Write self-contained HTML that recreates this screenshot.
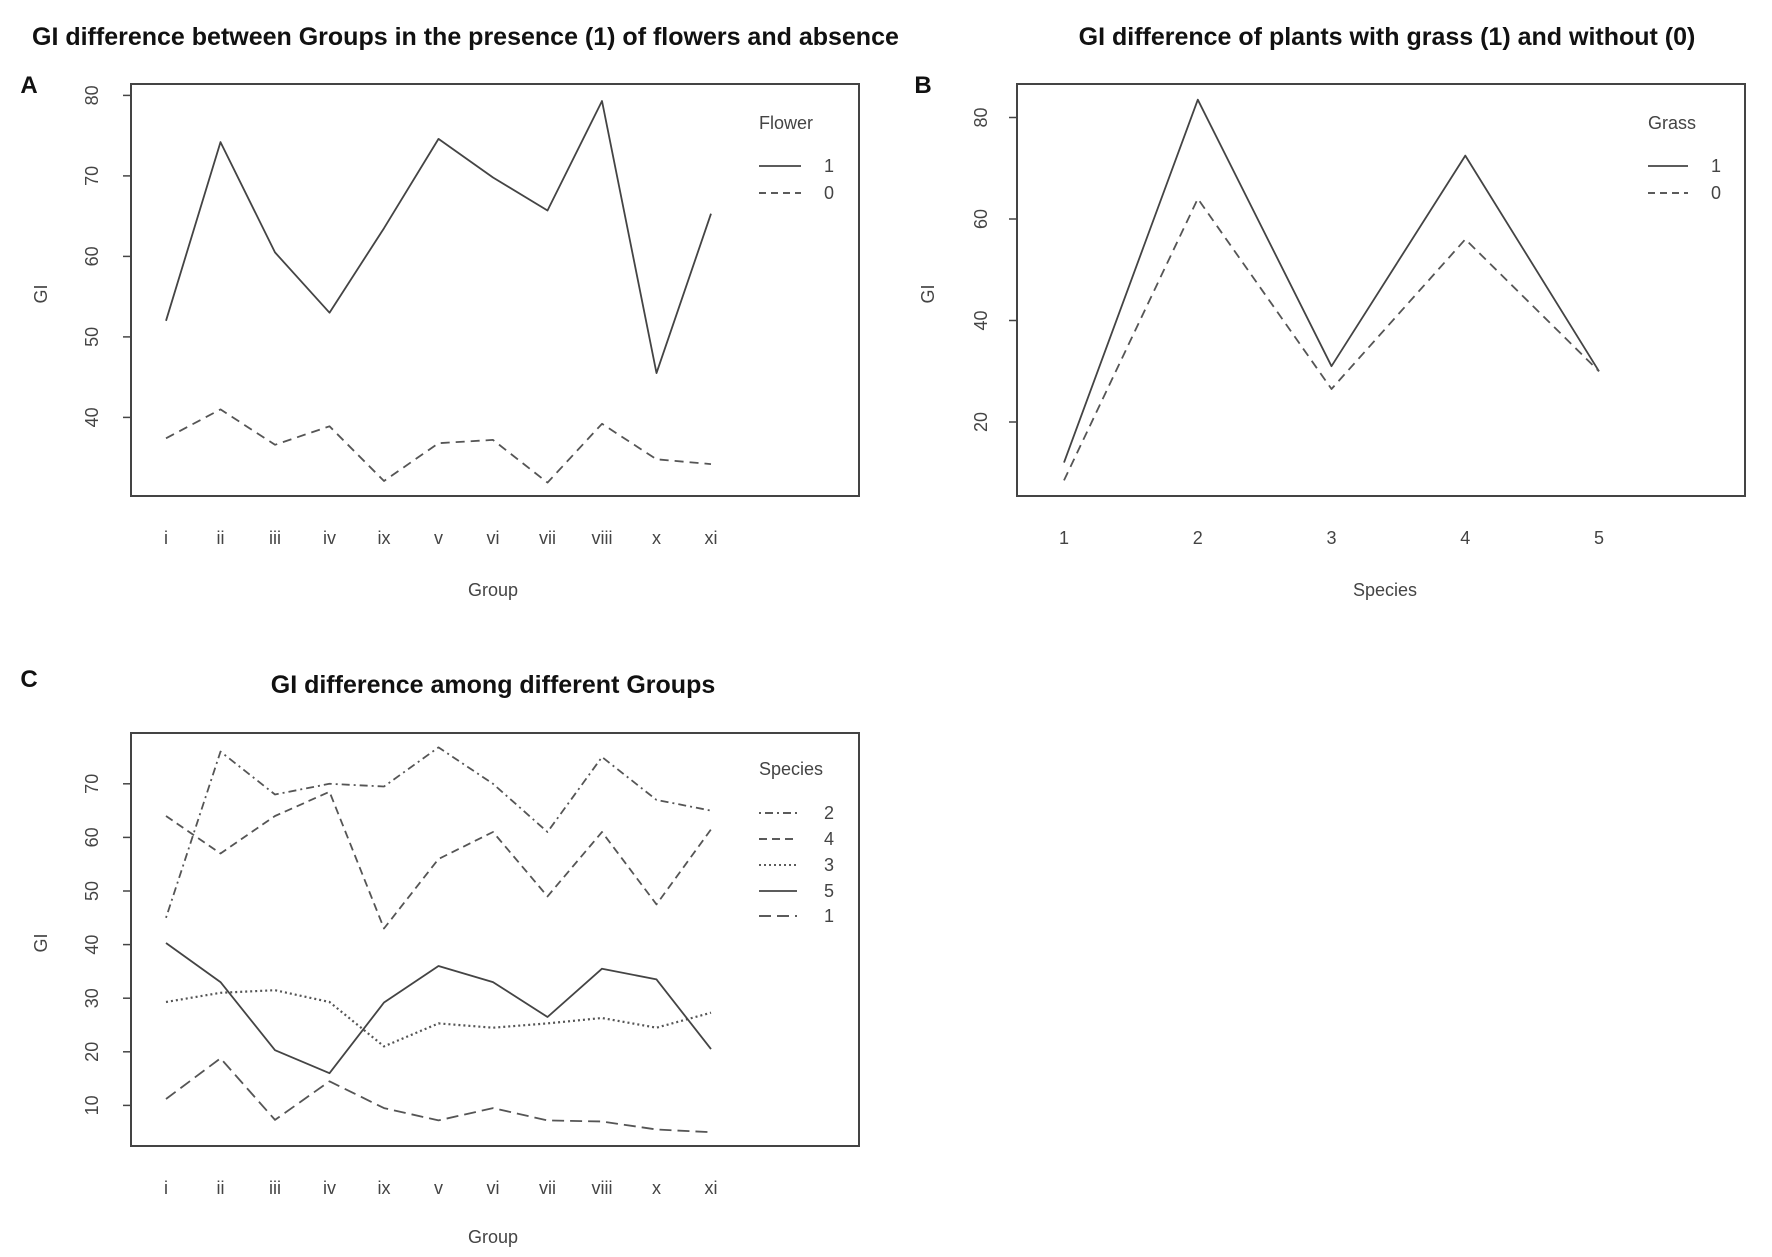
<!DOCTYPE html>
<html><head><meta charset="utf-8"><style>body{margin:0;background:#fff}svg{display:block}</style></head>
<body>
<svg width="1772" height="1257" xmlns="http://www.w3.org/2000/svg" font-family="Liberation Sans, Arial, sans-serif">
<defs><clipPath id="tc"><rect x="0" y="0" width="918" height="70"/></clipPath></defs>
<rect width="1772" height="1257" fill="#fff"/>
<g font-weight="bold" fill="#111">
<text x="29" y="93" font-size="24" text-anchor="middle">A</text>
<text x="923" y="93" font-size="24" text-anchor="middle">B</text>
<text x="29" y="687" font-size="24" text-anchor="middle">C</text>
<text x="32" y="45" font-size="25" clip-path="url(#tc)">GI difference between Groups in the presence (1) of flowers and absence</text>
<text x="1387" y="45" font-size="25" text-anchor="middle">GI difference of plants with grass (1) and without (0)</text>
<text x="493" y="693" font-size="25" text-anchor="middle">GI difference among different Groups</text>
</g>
<g fill="none" stroke="#444" stroke-width="2">
<rect x="131" y="84" width="728" height="412"/>
<rect x="1017" y="84" width="728" height="412"/>
<rect x="131" y="733" width="728" height="413"/>
</g>
<g stroke="#444" stroke-width="1.5">
<line x1="131" x2="123" y1="417.4" y2="417.4"/><line x1="131" x2="123" y1="336.9" y2="336.9"/><line x1="131" x2="123" y1="256.4" y2="256.4"/><line x1="131" x2="123" y1="175.9" y2="175.9"/><line x1="131" x2="123" y1="95.4" y2="95.4"/>
<line x1="1017" x2="1009" y1="422" y2="422"/><line x1="1017" x2="1009" y1="320.5" y2="320.5"/><line x1="1017" x2="1009" y1="219" y2="219"/><line x1="1017" x2="1009" y1="117.5" y2="117.5"/>
<line x1="131" x2="123" y1="1105.4" y2="1105.4"/><line x1="131" x2="123" y1="1051.8" y2="1051.8"/><line x1="131" x2="123" y1="998.2" y2="998.2"/><line x1="131" x2="123" y1="944.6" y2="944.6"/><line x1="131" x2="123" y1="891" y2="891"/><line x1="131" x2="123" y1="837.4" y2="837.4"/><line x1="131" x2="123" y1="783.8" y2="783.8"/>
</g>
<g fill="#444" font-size="18" text-anchor="middle">
<text transform="translate(98,417.4) rotate(-90)">40</text>
<text transform="translate(98,336.9) rotate(-90)">50</text>
<text transform="translate(98,256.4) rotate(-90)">60</text>
<text transform="translate(98,175.9) rotate(-90)">70</text>
<text transform="translate(98,95.4) rotate(-90)">80</text>
<text transform="translate(47,294) rotate(-90)">GI</text>
<text transform="translate(987,422) rotate(-90)">20</text>
<text transform="translate(987,320.5) rotate(-90)">40</text>
<text transform="translate(987,219) rotate(-90)">60</text>
<text transform="translate(987,117.5) rotate(-90)">80</text>
<text transform="translate(934,294) rotate(-90)">GI</text>
<text transform="translate(98,1105.4) rotate(-90)">10</text>
<text transform="translate(98,1051.8) rotate(-90)">20</text>
<text transform="translate(98,998.2) rotate(-90)">30</text>
<text transform="translate(98,944.6) rotate(-90)">40</text>
<text transform="translate(98,891) rotate(-90)">50</text>
<text transform="translate(98,837.4) rotate(-90)">60</text>
<text transform="translate(98,783.8) rotate(-90)">70</text>
<text transform="translate(47,943) rotate(-90)">GI</text>
<g>
<text x="166" y="544">i</text><text x="220.5" y="544">ii</text><text x="275" y="544">iii</text><text x="329.5" y="544">iv</text><text x="384" y="544">ix</text><text x="438.5" y="544">v</text><text x="493" y="544">vi</text><text x="547.5" y="544">vii</text><text x="602" y="544">viii</text><text x="656.5" y="544">x</text><text x="711" y="544">xi</text>
</g>
<text x="493" y="596">Group</text>
<text x="1064" y="544">1</text><text x="1197.8" y="544">2</text><text x="1331.5" y="544">3</text><text x="1465.3" y="544">4</text><text x="1599" y="544">5</text>
<text x="1385" y="596">Species</text>
<g>
<text x="166" y="1194">i</text><text x="220.5" y="1194">ii</text><text x="275" y="1194">iii</text><text x="329.5" y="1194">iv</text><text x="384" y="1194">ix</text><text x="438.5" y="1194">v</text><text x="493" y="1194">vi</text><text x="547.5" y="1194">vii</text><text x="602" y="1194">viii</text><text x="656.5" y="1194">x</text><text x="711" y="1194">xi</text>
</g>
<text x="493" y="1243">Group</text>
</g>
<g fill="#444" font-size="18">
<text x="759" y="129">Flower</text>
<text x="824" y="172">1</text><text x="824" y="199">0</text>
<text x="1648" y="129">Grass</text>
<text x="1711" y="172">1</text><text x="1711" y="199">0</text>
<text x="759" y="775">Species</text>
<text x="824" y="819">2</text><text x="824" y="845">4</text><text x="824" y="871">3</text><text x="824" y="897">5</text><text x="824" y="922">1</text>
</g>
<g fill="none" stroke="#444" stroke-width="1.8" stroke-linejoin="round">
<line x1="759" x2="801" y1="166" y2="166"/>
<line x1="759" x2="801" y1="193" y2="193" stroke-dasharray="7,5"/>
<line x1="1648" x2="1688" y1="166" y2="166"/>
<line x1="1648" x2="1688" y1="193" y2="193" stroke-dasharray="7,5"/>
<line x1="759" x2="797" y1="813" y2="813" stroke-dasharray="2,4,8,4"/>
<line x1="759" x2="797" y1="839" y2="839" stroke-dasharray="8,5"/>
<line x1="759" x2="797" y1="865" y2="865" stroke-dasharray="2,3"/>
<line x1="759" x2="797" y1="891" y2="891"/>
<line x1="759" x2="797" y1="916" y2="916" stroke-dasharray="12,6"/>
<polyline points="166,320.8 220.5,142.1 275,252.4 329.5,312.7 384,228.2 438.5,138.9 493,177.5 547.5,210.5 602,101 656.5,373.1 711,213.7"/>
<polyline stroke="#555" stroke-dasharray="9,6" points="166,438.3 220.5,409.4 275,444.8 329.5,426.3 384,481 438.5,443.2 493,439.9 547.5,482.6 602,423.8 656.5,459.3 711,464.1"/>
<polyline points="1064,462.6 1197.8,99.7 1331.5,366.2 1465.3,155.6 1599,371.3"/>
<polyline stroke="#555" stroke-dasharray="9,6" points="1064,480.4 1197.8,198.7 1331.5,389 1465.3,239.3 1599,371.3"/>
<polyline stroke="#555" stroke-dasharray="2,4,8,4" points="166,917.8 220.5,751.6 275,794.5 329.5,783.8 384,786.5 438.5,747.4 493,783.8 547.5,832 602,757 656.5,799.9 711,810.6"/>
<polyline stroke="#555" stroke-dasharray="8,5" points="166,816 220.5,853.5 275,816 329.5,791.8 384,928.5 438.5,859 493,832 547.5,896.4 602,832 656.5,904.4 711,829.4"/>
<polyline stroke="#555" stroke-dasharray="2,3" stroke-width="2.2" points="166,1002 220.5,992.8 275,990.2 329.5,1002 384,1046.4 438.5,1023.4 493,1027.7 547.5,1023.4 602,1018 656.5,1027.7 711,1012.7"/>
<polyline points="166,943 220.5,982.1 275,1050.2 329.5,1073.2 384,1002.5 438.5,966 493,982.1 547.5,1017 602,968.7 656.5,979.4 711,1049.1"/>
<polyline stroke="#555" stroke-dasharray="12,6" points="166,1099 220.5,1058.3 275,1119.9 329.5,1081.3 384,1108.1 438.5,1120.4 493,1108.1 547.5,1120.4 602,1121.5 656.5,1129.5 711,1132.2"/>
</g>
</svg>
</body></html>
